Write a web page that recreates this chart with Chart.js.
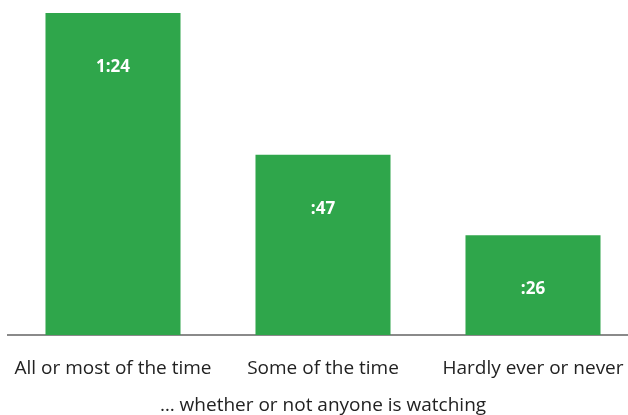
<!DOCTYPE html>
<html>
<head>
<meta charset="utf-8">
<script src="https://cdn.jsdelivr.net/npm/chart.js@4"></script>
<style>
  html, body { margin: 0; padding: 0; background: #fff; overflow: hidden; }
  .wrap { width: 640px; height: 415px; }
</style>
</head>
<body>
<div class="wrap"><canvas id="chart" width="640" height="415"></canvas></div>
<script>
/* ── Data ── */
const categories = ['All or most of the time', 'Some of the time', 'Hardly ever or never'];
const minutes = [84, 47, 26];
const valueLabels = ['1:24', ':47', ':26'];
const axisNote = '\u2026 whether or not anyone is watching';

const GREEN = '#2fa64b';
const FONT = "'Open Sans', sans-serif";

/* ── Value labels inside bars ── */
const barLabels = {
  id: 'barLabels',
  afterDatasetsDraw(chart) {
    const ctx = chart.ctx;
    const meta = chart.getDatasetMeta(0);
    ctx.save();
    ctx.fillStyle = '#fff';
    ctx.font = "bold 17px " + FONT;
    ctx.textAlign = 'center';
    ctx.textBaseline = 'middle';
    meta.data.forEach((bar, i) => {
      ctx.fillText(valueLabels[i], bar.x, bar.y + 54);
    });
    ctx.restore();
  }
};

new Chart(document.getElementById('chart'), {
  type: 'bar',
  data: {
    labels: categories,
    datasets: [{
      data: minutes,
      backgroundColor: GREEN,
      borderWidth: 0,
      barPercentage: 0.643,
      categoryPercentage: 1
    }]
  },
  options: {
    responsive: false,
    animation: false,
    layout: { padding: { left: 8, right: 2, top: 13, bottom: -2 } },
    plugins: {
      legend: { display: false },
      tooltip: { enabled: false }
    },
    scales: {
      y: {
        display: false,
        min: 0,
        max: 84
      },
      x: {
        afterFit(scale) {
          // fixed strip under the baseline, no extra side padding
          scale.height = 82;
          scale.paddingLeft = 0;
          scale.paddingRight = 0;
        },
        grid: { display: false, drawTicks: false },
        border: { display: true, color: '#8a8a8a', width: 2 },
        ticks: {
          color: '#222',
          padding: 22,
          autoSkip: false,
          minRotation: 0,
          maxRotation: 0,
          font: { family: FONT, size: 19 }
        },
        title: {
          display: true,
          text: axisNote,
          color: '#222',
          padding: { top: 10, bottom: 0 },
          font: { family: FONT, size: 19 }
        }
      }
    }
  },
  plugins: [barLabels]
});
</script>
</body>
</html>
